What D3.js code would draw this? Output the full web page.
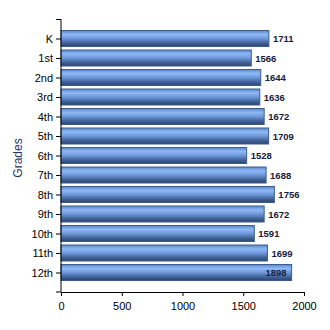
<!DOCTYPE html>
<html>
<head>
<meta charset="utf-8">
<script src="https://cdn.jsdelivr.net/npm/d3@7"></script>
<style>
  body { margin: 0; background: #fff; }
  svg { font-family: "Liberation Sans", Arial, sans-serif; }
</style>
</head>
<body>
<div id="chart"></div>
<script>
const grades = ["K", "1st", "2nd", "3rd", "4th", "5th", "6th", "7th", "8th", "9th", "10th", "11th", "12th"];
const students = [1711, 1566, 1644, 1636, 1672, 1709, 1528, 1688, 1756, 1672, 1591, 1699, 1898];
const xTicks = [0, 500, 1000, 1500, 2000];

const width = 330, height = 330;
const plotLeft = 61, plotRight = 304, plotTop = 19, plotBottom = 292;

const svg = d3.select("#chart").append("svg")
    .attr("width", width)
    .attr("height", height);

const grad = svg.append("defs").append("linearGradient")
    .attr("id", "barGrad")
    .attr("x1", 0).attr("y1", 0).attr("x2", 0).attr("y2", 1);
[[0, "#5b88cc"], [0.25, "#8fb8f5"], [0.5, "#6d98da"], [0.8, "#3f5f92"], [1, "#2c4573"]]
  .forEach(s => grad.append("stop").attr("offset", s[0]).attr("stop-color", s[1]));

const x = d3.scaleLinear().domain([0, 2000]).range([plotLeft, plotRight]);
const y = d3.scalePoint().domain(grades).range([plotTop, plotBottom]).padding(1);
const barH = 16;

// bars
svg.append("g").selectAll("rect")
    .data(grades)
    .join("rect")
    .attr("x", x(0))
    .attr("y", d => y(d) - barH / 2)
    .attr("width", (d, i) => x(students[i]) - x(0))
    .attr("height", barH)
    .attr("fill", "url(#barGrad)")
    .attr("stroke", "#3d5c8c")
    .attr("stroke-width", 1);

// value labels (inside the bar when it would run past the plot)
const inside = v => x(v) + 24 > plotRight;
svg.append("g").selectAll("text")
    .data(grades)
    .join("text")
    .attr("x", (d, i) => inside(students[i]) ? x(students[i]) - 5 : x(students[i]) + 4)
    .attr("y", d => y(d) + 3.5)
    .attr("text-anchor", (d, i) => inside(students[i]) ? "end" : "start")
    .attr("font-size", 9.5)
    .attr("font-weight", "bold")
    .attr("fill", "#16203c")
    .text((d, i) => students[i]);

// y axis
const yAxis = svg.append("g")
    .attr("transform", `translate(${plotLeft},0)`)
    .call(d3.axisLeft(y).tickSize(5).tickPadding(3));
yAxis.select(".domain").attr("d", `M0,${plotTop}V${plotBottom}`).attr("stroke", "#000");
yAxis.selectAll(".tick text").attr("font-size", 11).attr("fill", "#000")
    .attr("font-family", "'Liberation Sans', Arial, sans-serif");
yAxis.append("line").attr("x1", -5).attr("x2", 0).attr("y1", plotTop + 0.5).attr("y2", plotTop + 0.5).attr("stroke", "#000");
yAxis.append("line").attr("x1", -5).attr("x2", 0).attr("y1", plotBottom).attr("y2", plotBottom).attr("stroke", "#000");

// x axis
const xAxis = svg.append("g")
    .attr("transform", `translate(0,${plotBottom})`)
    .call(d3.axisBottom(x).tickValues(xTicks).tickFormat(d3.format("d"))
        .tickSize(4).tickSizeOuter(0).tickPadding(6));
xAxis.select(".domain").attr("stroke", "#000");
xAxis.selectAll(".tick text").attr("font-size", 11).attr("fill", "#000")
    .attr("font-family", "'Liberation Sans', Arial, sans-serif");

// axis title
svg.append("text")
    .attr("transform", `translate(22,158) rotate(-90)`)
    .attr("text-anchor", "middle")
    .attr("font-size", 12)
    .attr("fill", "#1f3864")
    .text("Grades");
</script>
</body>
</html>
